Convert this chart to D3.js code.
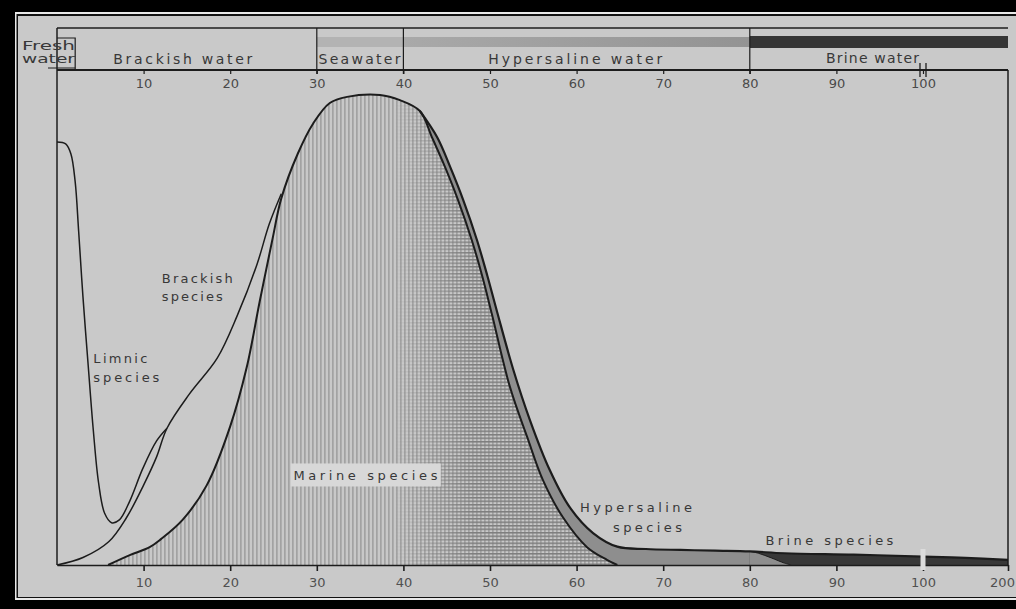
<!DOCTYPE html>
<html>
<head>
<meta charset="utf-8">
<script src="https://cdn.jsdelivr.net/npm/d3@7"></script>
<style>
body { margin: 0; background: #000; }
text { font-family: "DejaVu Sans", sans-serif; fill: #383838; }
</style>
</head>
<body>
<script>
// salinity (per mille) vs relative number of species (% of marine maximum)

var limnic = [[0,90],[1,89.6],[1.6,87.5],[2.1,81.5],[2.5,71],[3.0,57],[3.6,42.5],[4.2,28.5],
  [4.8,17.5],[5.5,11],[6.3,9],[7.2,9.6],[8.4,13.6],[9.9,20.5],[11.5,26.4],[12.7,29.1]];

var brackish = [[0,0],[3,1.6],[6,5],[8,10],[10,17],[11.5,23],[12.7,29.1],[15.3,36.4],
  [18.5,44],[20.8,53],[23.1,64],[24.5,72.5],[25.9,79]];

var marine = [[5.9,0],[8.4,2.1],[10.7,3.8],[12,5.5],[14.5,9.6],[17.3,17],[20,29.5],[21.9,42],
  [23.4,56],[24.9,69.5],[25.9,78],[27.8,87.5],[29.6,94],[31.5,98.3],[33.5,99.6],[37.3,100],
  [39.6,98.9],[41.9,96.6],[43.3,91],[44.8,84.7],[46.3,77.7],[47.9,69.1],[49.1,61.5],[50.2,53.5],
  [52.3,37.9],[54.3,27.2],[56.1,18.1],[58.4,10.2],[61.2,3.8],[63.5,1.1],[64.7,0]];

// outer edge: marine + hypersaline + brine
var outer = [[41.9,96.6],[43.9,91],[45.4,84.7],[46.9,77.7],[48.5,69.1],[49.7,61.5],[50.8,54],
  [52.7,41.5],[54.6,30.9],[56.9,20.2],[59.2,12.3],[61.9,6.8],[64.7,3.9],[68,3.4],[72,3.2],
  [76,3.05],[80,2.9],[84,2.5],[92,2.2],[100,1.8],[150,1.5],[200,1.1]];

// border between hypersaline and brine species
var brineEdge = [[80,2.9],[81,2.5],[82.5,1.5],[84,0.4],[84.8,0]];

var topTicks = [10,20,30,40,50,60,70,80,90,100];
var bottomTicks = [10,20,30,40,50,60,70,80,90,100,200];
var minorTicks = [2,4,6,8,12,14,16,18,22,24,26,28,32,34,36,38,42,44,46,48,52,54,56,58,
  62,64,66,68,72,74,76,78,82,84,86,88,92,94,96,98,120,140,160,180];

var zoneBounds = [30,40,80];

var W = 1016, H = 609;
var svg = d3.select("body").append("svg").attr("width", W).attr("height", H);

var x = d3.scaleLinear().domain([0,100,200]).range([57,923,1008]);
var y = d3.scaleLinear().domain([0,100]).range([565,95]);

// photo frame
svg.append("rect").attr("width", W).attr("height", H).attr("fill", "#000");
svg.append("rect").attr("x", 15).attr("y", 12).attr("width", W-15).attr("height", 588).attr("fill", "#e8e8e8");
svg.append("rect").attr("x", 16.5).attr("y", 14).attr("width", W-16.5).attr("height", 584).attr("fill", "#111");
svg.append("rect").attr("x", 18).attr("y", 16).attr("width", W-18).attr("height", 581).attr("fill", "#c9c9c9");

var defs = svg.append("defs");
var pv = defs.append("pattern").attr("id", "vstripe").attr("patternUnits", "userSpaceOnUse")
  .attr("width", 4).attr("height", 4);
pv.append("rect").attr("width", 4).attr("height", 4).attr("fill", "#c8c8c8");
pv.append("rect").attr("width", 1.7).attr("height", 4).attr("fill", "#a2a2a2");

var ph = defs.append("pattern").attr("id", "hstripe").attr("patternUnits", "userSpaceOnUse")
  .attr("width", 4).attr("height", 3.5);
ph.append("rect").attr("width", 4).attr("height", 1.5).attr("fill", "#7e7e7e");

var gm = defs.append("linearGradient").attr("id", "fadeIn").attr("gradientUnits", "userSpaceOnUse")
  .attr("x1", x(39)).attr("x2", x(48)).attr("y1", 0).attr("y2", 0);
gm.append("stop").attr("offset", 0).attr("stop-color", "#fff").attr("stop-opacity", 0);
gm.append("stop").attr("offset", 1).attr("stop-color", "#fff").attr("stop-opacity", 1);
defs.append("mask").attr("id", "hmask").append("rect")
  .attr("x", 0).attr("y", 0).attr("width", W).attr("height", H).attr("fill", "url(#fadeIn)");

var gh = defs.append("linearGradient").attr("id", "hyperStrip").attr("x1", 0).attr("x2", 1);
gh.append("stop").attr("offset", 0).attr("stop-color", "#a9a9a9");
gh.append("stop").attr("offset", 1).attr("stop-color", "#939393");

var curve = d3.curveCatmullRom.alpha(0.5);
var line = d3.line().x(function(d){ return x(d[0]); }).y(function(d){ return y(d[1]); }).curve(curve);
var area = d3.area().x(function(d){ return x(d[0]); }).y0(y(0)).y1(function(d){ return y(d[1]); }).curve(curve);

var ink = "#1c1c1c";

// stacked bands, painted back to front
svg.append("path").attr("d", area(outer)).attr("fill", "#8e8e8e");
svg.append("path").attr("d", area(outer.filter(function(d){ return d[0] >= 80; }))).attr("fill", "#383838");
svg.append("path").attr("d", area(brineEdge)).attr("fill", "#8e8e8e");
svg.append("path").attr("d", area(marine)).attr("fill", "url(#vstripe)");
svg.append("path").attr("d", area(marine)).attr("fill", "url(#hstripe)").attr("mask", "url(#hmask)");

svg.append("path").attr("d", line(outer)).attr("fill", "none").attr("stroke", ink).attr("stroke-width", 2.2);
svg.append("path").attr("d", line(brineEdge)).attr("fill", "none").attr("stroke", ink).attr("stroke-width", 1);
svg.append("path").attr("d", line(marine)).attr("fill", "none").attr("stroke", ink).attr("stroke-width", 2);
svg.append("path").attr("d", line(brackish)).attr("fill", "none").attr("stroke", ink).attr("stroke-width", 1.5);
svg.append("path").attr("d", line(limnic)).attr("fill", "none").attr("stroke", ink).attr("stroke-width", 1.5);

// bottom axis
var gb = svg.append("g").attr("transform", "translate(0," + y(0) + ")");
gb.call(d3.axisBottom(x).tickValues(minorTicks).tickFormat("").tickSize(5).tickSizeOuter(0));
gb.call(d3.axisBottom(x).tickValues(bottomTicks).tickSize(6).tickPadding(7).tickSizeOuter(0));
gb.selectAll("path, line").attr("stroke", ink).attr("stroke-width", 1.6);
gb.selectAll("text").attr("font-size", 13).attr("font-family", "DejaVu Sans").style("fill", "#505050");
gb.selectAll("text").filter(function(d){ return d === 200; }).attr("dx", -6);

// break at 100
svg.append("rect").attr("x", x(100) - 2.5).attr("y", 549).attr("width", 5).attr("height", 21).attr("fill", "#dcdcdc");

// frame lines of the plot
svg.append("line").attr("x1", x(0)).attr("x2", x(0)).attr("y1", 28).attr("y2", y(0))
  .attr("stroke", ink).attr("stroke-width", 1.5);
svg.append("line").attr("x1", x(200)).attr("x2", x(200)).attr("y1", 70).attr("y2", y(0))
  .attr("stroke", ink).attr("stroke-width", 1.5);

// salinity zones bar
svg.append("rect").attr("x", x(30)).attr("y", 37).attr("width", x(40) - x(30)).attr("height", 10).attr("fill", "#b3b3b3");
svg.append("rect").attr("x", x(40)).attr("y", 37).attr("width", x(80) - x(40)).attr("height", 10).attr("fill", "url(#hyperStrip)");
svg.append("rect").attr("x", x(80)).attr("y", 36).attr("width", x(200) - x(80)).attr("height", 12).attr("fill", "#353535");

svg.append("line").attr("x1", x(0)).attr("x2", x(200)).attr("y1", 28).attr("y2", 28).attr("stroke", ink).attr("stroke-width", 1.5);
svg.append("line").attr("x1", x(0)).attr("x2", x(200)).attr("y1", 70).attr("y2", 70).attr("stroke", ink).attr("stroke-width", 1.8);
svg.selectAll(".zb").data(zoneBounds).enter().append("line")
  .attr("x1", function(d){ return x(d); }).attr("x2", function(d){ return x(d); })
  .attr("y1", 28).attr("y2", 74).attr("stroke", ink).attr("stroke-width", 1.2);
// fresh water box
svg.append("path").attr("d", "M" + x(0) + ",38H" + x(2.1) + "V70").attr("fill", "none").attr("stroke", ink).attr("stroke-width", 1.2);
svg.append("line").attr("x1", 48).attr("x2", x(2.1)).attr("y1", 68).attr("y2", 68).attr("stroke", ink).attr("stroke-width", 1);
// break marks on the top scale
[-3, 3].forEach(function(o){
  svg.append("line").attr("x1", x(100) + o).attr("x2", x(100) + o).attr("y1", 63).attr("y2", 77)
    .attr("stroke", ink).attr("stroke-width", 1.3);
});

var gt = svg.append("g").attr("transform", "translate(0,70)");
gt.call(d3.axisBottom(x).tickValues(topTicks).tickSize(4).tickPadding(5).tickSizeOuter(0));
gt.select(".domain").remove();
gt.selectAll("line").attr("stroke", ink).attr("stroke-width", 1.2);
gt.selectAll("text").attr("font-size", 13).attr("font-family", "DejaVu Sans").style("fill", "#4a4a4a");

// zone names (salinity where the text starts, baseline, width)
var zoneLabels = [
  { t: "Brackish water", s: 6.5, b: 64, w: 139 },
  { t: "Seawater", s: 30.2, b: 64, w: 82 },
  { t: "Hypersaline water", s: 49.8, b: 64, w: 174 },
  { t: "Brine water", s: 88.8, b: 63, w: 93 }
];
svg.selectAll(".zl").data(zoneLabels).enter().append("text")
  .attr("x", function(d){ return x(d.s); }).attr("y", function(d){ return d.b; })
  .attr("font-size", 14).attr("textLength", function(d){ return d.w; }).attr("lengthAdjust", "spacing")
  .text(function(d){ return d.t; });
svg.append("text").attr("x", 22).attr("y", 50).attr("font-size", 13).attr("textLength", 53).attr("lengthAdjust", "spacingAndGlyphs").text("Fresh");
svg.append("text").attr("x", 22).attr("y", 63).attr("font-size", 13).attr("textLength", 53).attr("lengthAdjust", "spacingAndGlyphs").text("water");

// species labels (salinity, value of the baseline, width)
svg.append("rect").attr("x", x(27)).attr("y", y(21.6)).attr("width", 150).attr("height", 23).attr("fill", "#d8d8d8");
var speciesLabels = [
  { t: "Brackish", s: 12.1, v: 60.0, w: 71 },
  { t: "species", s: 12.1, v: 56.2, w: 61 },
  { t: "Limnic", s: 4.2, v: 43.0, w: 54 },
  { t: "species", s: 4.2, v: 38.9, w: 66 },
  { t: "Marine species", s: 27.3, v: 18.1, w: 144 },
  { t: "Hypersaline", s: 60.4, v: 11.3, w: 112 },
  { t: "species", s: 64.2, v: 7.0, w: 69 },
  { t: "Brine species", s: 81.8, v: 4.3, w: 128 }
];
svg.selectAll(".sl").data(speciesLabels).enter().append("text")
  .attr("x", function(d){ return x(d.s); }).attr("y", function(d){ return y(d.v); })
  .attr("font-size", 13).attr("textLength", function(d){ return d.w; }).attr("lengthAdjust", "spacing")
  .text(function(d){ return d.t; });
</script>
</body>
</html>
